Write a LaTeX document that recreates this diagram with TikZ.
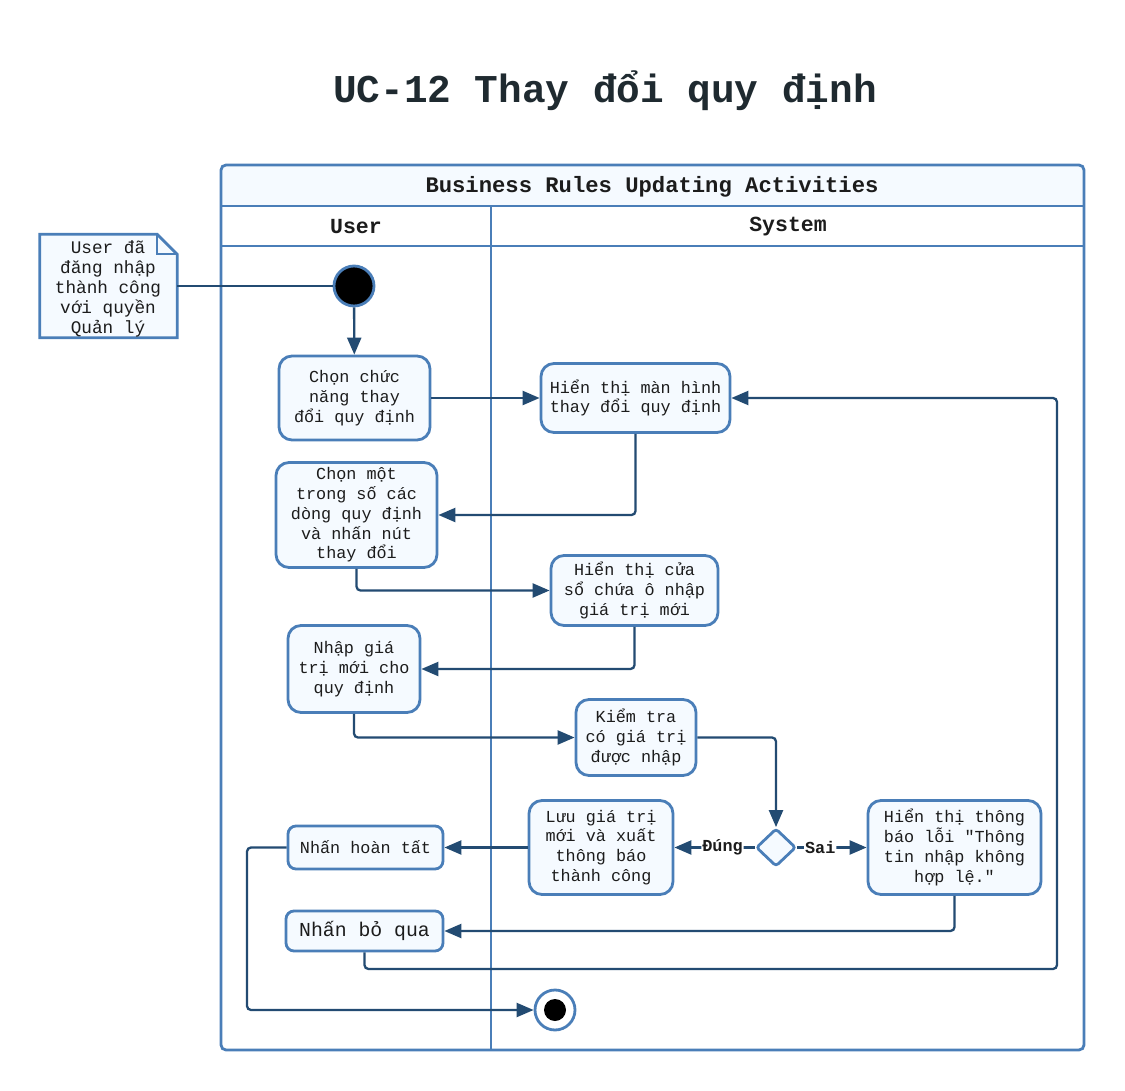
\documentclass[tikz,border=0pt]{standalone}
\usepackage{fontspec}
\newfontfamily\mono{Liberation Mono}
\usetikzlibrary{shapes.geometric,arrows.meta}
\definecolor{lanec}{HTML}{4A7EB8}
\definecolor{fillc}{HTML}{F5FAFF}
\definecolor{connc}{HTML}{234B72}
\definecolor{txtc}{HTML}{1C1C1C}
\definecolor{titlec}{HTML}{1F2A30}
\tikzset{
  actbox/.style={draw=lanec, fill=fillc, line width=2.8pt, rounded corners=13pt,
    align=center, inner sep=0pt, text=txtc, font=\mono\fontsize{16.8}{19.8}\selectfont},
  conn/.style={draw=connc, line width=2.3pt, rounded corners=4pt},
  arr/.style={conn, -{Triangle[length=17pt,width=14pt]}},
  guardlbl/.style={fill=white, inner sep=1pt, text=txtc, font=\mono\bfseries\fontsize{16.8}{19.8}\selectfont},
  hdr/.style={text=txtc, font=\mono\bfseries\fontsize{21.5}{24}\selectfont},
}
\begin{document}
\begin{tikzpicture}[x=1pt,y=-1pt]
\useasboundingbox (0,0) rectangle (1125,1091);
% title
\node[text=titlec, font=\mono\bfseries\fontsize{39.4}{44}\selectfont] (title) at (605,91) {UC-12 Thay đổi quy định};
% pool
\fill[white, rounded corners=5pt] (221,165) rectangle (1084,1050);
\fill[fillc, rounded corners=5pt] (221,165) rectangle (1084,206);
\fill[fillc] (221,190) rectangle (1084,206);
\draw[lanec, line width=2.8pt, rounded corners=5pt] (221,165) rectangle (1084,1050);
\draw[lanec, line width=2.8pt] (221,206) -- (1084,206);
\draw[lanec, line width=2.8pt] (221,246) -- (1084,246);
\draw[lanec, line width=2.8pt] (491,206) -- (491,1050);
\node[hdr, font=\mono\bfseries\fontsize{22.2}{24}\selectfont] (pooltitle) at (652,187) {Business Rules Updating Activities};
\node[hdr] (laneuser) at (356,227) {User};
\node[hdr] (lanesys) at (788,227) {System};
% note
\node[minimum width=137pt, minimum height=103pt, inner sep=0pt] (note) at (108.5,286) {};
\draw[lanec, fill=fillc, line width=2.8pt, line join=miter]
  (note.north west) -- ([xshift=-20pt]note.north east) -- ([yshift=-20pt]note.north east) -- (note.south east) -- (note.south west) -- cycle;
\draw[lanec, line width=2.4pt] ([xshift=-20pt]note.north east) -- ([xshift=-20pt,yshift=-20pt]note.north east) -- ([yshift=-20pt]note.north east);
\node[align=center, text=txtc, font=\mono\fontsize{17.7}{20}\selectfont] (notetext) at (108,289) {User đã\\đăng nhập\\thành công\\với quyền\\Quản lý};
% start / end
\node[circle, fill=black, draw=lanec, line width=2.8pt, minimum size=40pt, inner sep=0pt] (start) at (354,286) {};
\node[circle, fill=white, draw=lanec, line width=2.8pt, minimum size=40pt, inner sep=0pt] (end) at (555,1010) {};
\node[circle, fill=black, minimum size=22pt, inner sep=0pt] (endin) at (555,1010) {};
% activities
\node[actbox, minimum width=151pt, minimum height=84pt] (b1) at (354.5,398) {Chọn chức\\năng thay\\đổi quy định};
\node[actbox, minimum width=189pt, minimum height=69pt] (b2) at (635.5,398) {Hiển thị màn hình\\thay đổi quy định};
\node[actbox, minimum width=161pt, minimum height=105pt] (b3) at (356.5,515) {Chọn một\\trong số các\\dòng quy định\\và nhấn nút\\thay đổi};
\node[actbox, minimum width=167pt, minimum height=70pt] (b4) at (634.5,590.5) {Hiển thị cửa\\sổ chứa ô nhập\\giá trị mới};
\node[actbox, minimum width=132pt, minimum height=87pt] (b5) at (354,669) {Nhập giá\\trị mới cho\\quy định};
\node[actbox, minimum width=120pt, minimum height=76pt] (b6) at (636,737.5) {Kiểm tra\\có giá trị\\được nhập};
\node[actbox, minimum width=144pt, minimum height=94pt] (b7) at (601,847.5) {Lưu giá trị\\mới và xuất\\thông báo\\thành công};
\node[actbox, minimum width=173pt, minimum height=94pt] (b8) at (954.5,847.5) {Hiển thị thông\\báo lỗi "Thông\\tin nhập không\\hợp lệ."};
\node[actbox, rounded corners=8pt, minimum width=155pt, minimum height=43pt] (b9) at (365.5,847.5) {Nhấn hoàn tất};
\node[actbox, rounded corners=8pt, minimum width=157pt, minimum height=40pt, font=\mono\fontsize{19.8}{22}\selectfont] (b10) at (364.5,931) {Nhấn bỏ qua};
\node[diamond, draw=lanec, fill=fillc, line width=2.8pt, minimum width=40pt, minimum height=38pt, inner sep=0pt, rounded corners=3pt] (dia) at (776,847.5) {};
% connectors
\coordinate (loop) at (1057,969);
\coordinate (back) at (247,1010);
\draw[conn] (note.east) -- (start.west);
\draw[arr] (start) -- (b1);
\draw[arr] (b1.east) -- (b2.west);
\draw[arr] (b2.south) |- (b3.east);
\draw[arr] (b3.south) |- (b4.west);
\draw[arr] (b4.south) |- (b5.east);
\draw[arr] (b5.south) |- (b6.west);
\draw[arr] (b6.east) -| (dia.north);
\draw[arr] (dia.west) -- node[guardlbl, pos=0.4] (lblT) {Đúng} (b7.east);
\draw[arr] (dia.east) -- node[guardlbl, pos=0.33] (lblF) {Sai} (b8.west);
\draw[arr] (b7.west) -- (b9.east);
\draw[arr] (b8.south) |- (b10.east);
\draw[arr] (b10.south) |- (loop) |- (b2.east);
\draw[arr] (b9.west) -| (back) -- (end.west);
\end{tikzpicture}
\end{document}
